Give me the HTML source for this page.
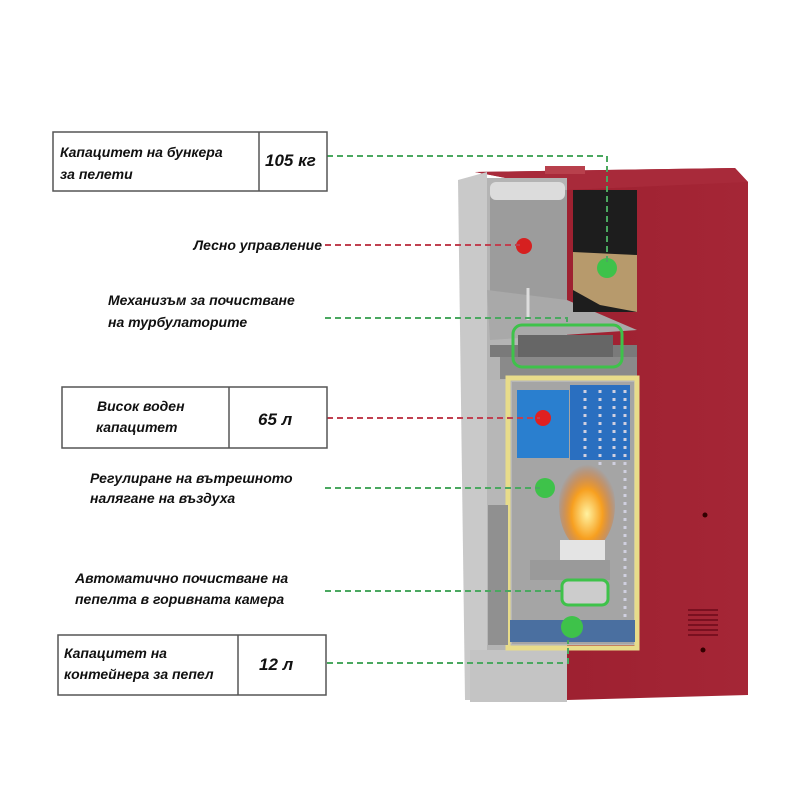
<!DOCTYPE html>
<html><head><meta charset="utf-8"><style>
html,body{margin:0;padding:0;background:#fff;}
svg{display:block}
text{font-family:"Liberation Sans","DejaVu Sans",sans-serif;font-style:italic;font-weight:bold;fill:#111;}
</style></head><body>
<svg width="800" height="800" viewBox="0 0 800 800" xmlns="http://www.w3.org/2000/svg">
<defs>
<radialGradient id="fl" cx="50%" cy="60%" r="55%">
<stop offset="0" stop-color="#fff2a0"/><stop offset="0.5" stop-color="#f7a020"/><stop offset="1" stop-color="#e06010" stop-opacity="0"/>
</radialGradient>
<linearGradient id="red" x1="0" x2="1"><stop offset="0" stop-color="#9a1e2e"/><stop offset="1" stop-color="#a52636"/></linearGradient>
</defs>
<!-- stove body -->
<polygon points="475,172 735,168 748,182 748,695 567,700 567,190" fill="url(#red)"/>
<polygon points="475,172 735,168 748,182 567,190" fill="#a82a3a"/>
<rect x="545" y="166" width="40" height="8" fill="#b8404c"/>
<!-- left gray frame -->
<polygon points="458,180 487,172 487,700 465,700" fill="#c9c9c9"/>
<rect x="487" y="178" width="80" height="522" fill="#b4b4b4"/>
<rect x="470" y="650" width="97" height="52" fill="#c4c4c4"/>
<!-- upper compartment -->
<rect x="490" y="190" width="77" height="140" fill="#9c9c9c"/>
<polygon points="487,290 567,300 637,330 490,340" fill="#a9a9a9"/>
<rect x="490" y="182" width="75" height="18" rx="6" fill="#dcdcdc"/>
<!-- hopper -->
<rect x="573" y="190" width="64" height="122" fill="#1d1d1d"/>
<polygon points="573,252 637,255 637,312 600,305 573,290" fill="#b79a6c"/>
<circle cx="524" cy="246" r="8" fill="#d62020"/>
<line x1="528" y1="288" x2="528" y2="320" stroke="#ddd" stroke-width="3"/>
<!-- shelf -->
<rect x="490" y="345" width="147" height="12" fill="#7a7a7a"/>
<rect x="518" y="335" width="95" height="28" fill="#666"/>
<rect x="500" y="357" width="137" height="22" fill="#8a8a8a"/>
<rect x="513" y="325" width="109" height="42" rx="9" fill="none" stroke="#3ec24a" stroke-width="3"/>
<!-- lower chamber -->
<rect x="487" y="380" width="150" height="265" fill="#b7b7b7"/>
<rect x="508" y="378" width="129" height="270" fill="none" stroke="#e8dc8a" stroke-width="5"/>
<rect x="512" y="382" width="122" height="262" fill="#a5a5a5"/>
<rect x="517" y="390" width="52" height="68" fill="#2a7fcf"/>
<rect x="570" y="385" width="60" height="75" fill="#2a6fc0"/>
<g stroke="#d0d0e0" stroke-width="3" stroke-dasharray="3 5">
<line x1="585" y1="390" x2="585" y2="460"/><line x1="600" y1="390" x2="600" y2="465"/><line x1="614" y1="390" x2="614" y2="470"/><line x1="625" y1="390" x2="625" y2="640"/>
</g>
<ellipse cx="587" cy="505" rx="28" ry="45" fill="url(#fl)"/>
<rect x="560" y="540" width="45" height="28" fill="#e4e4e4"/>
<rect x="530" y="560" width="80" height="20" fill="#9a9a9a"/>
<rect x="562" y="580" width="46" height="25" rx="6" fill="#ccc" stroke="#3ec24a" stroke-width="3"/>
<rect x="510" y="620" width="125" height="22" fill="#4a6fa0"/>
<rect x="488" y="505" width="20" height="140" fill="#909090"/>
<!-- right details -->
<g stroke="#7a1020" stroke-width="2"><line x1="688" y1="610" x2="718" y2="610"/><line x1="688" y1="615" x2="718" y2="615"/><line x1="688" y1="620" x2="718" y2="620"/><line x1="688" y1="625" x2="718" y2="625"/><line x1="688" y1="630" x2="718" y2="630"/><line x1="688" y1="635" x2="718" y2="635"/></g>
<circle cx="705" cy="515" r="2.5" fill="#300"/><circle cx="703" cy="650" r="2.5" fill="#300"/>
<!-- markers -->
<circle cx="607" cy="268" r="10" fill="#3ec24a"/>
<circle cx="543" cy="418" r="8" fill="#e02020"/>
<circle cx="545" cy="488" r="10" fill="#3ec24a"/>
<circle cx="572" cy="627" r="11" fill="#3ec24a"/>
<!-- connectors -->
<g fill="none" stroke-width="2" stroke-dasharray="6 4">
<polyline points="327,156 607,156 607,262" stroke="#4aa860"/>
<line x1="325" y1="245" x2="520" y2="245" stroke="#c04050"/>
<polyline points="325,318 567,318 567,326" stroke="#4aa860"/>
<line x1="327" y1="418" x2="540" y2="418" stroke="#c04050"/>
<line x1="325" y1="488" x2="540" y2="488" stroke="#4aa860"/>
<line x1="325" y1="591" x2="565" y2="591" stroke="#4aa860"/>
<polyline points="327,663 568,663 568,640" stroke="#4aa860"/>
</g>
<!-- boxes -->
<g fill="#fff" stroke="#555" stroke-width="1.5">
<rect x="53" y="132" width="274" height="59"/><line x1="259" y1="132" x2="259" y2="191"/>
<rect x="62" y="387" width="265" height="61"/><line x1="229" y1="387" x2="229" y2="448"/>
<rect x="58" y="635" width="268" height="60"/><line x1="238" y1="635" x2="238" y2="695"/>
</g>
<text x="60" y="157" font-size="14">Капацитет на бункера</text>
<text x="60" y="179" font-size="14">за пелети</text>
<text x="265" y="166" font-size="17">105 кг</text>
<text x="322" y="250" font-size="14" text-anchor="end">Лесно управление</text>
<text x="108" y="305" font-size="14">Механизъм за почистване</text>
<text x="108" y="327" font-size="14">на турбулаторите</text>
<text x="97" y="411" font-size="14">Висок воден</text>
<text x="96" y="432" font-size="14">капацитет</text>
<text x="258" y="425" font-size="17">65 л</text>
<text x="90" y="483" font-size="14">Регулиране на вътрешното</text>
<text x="90" y="503" font-size="14">налягане на въздуха</text>
<text x="75" y="583" font-size="14">Автоматично почистване на</text>
<text x="75" y="604" font-size="14">пепелта в горивната камера</text>
<text x="64" y="658" font-size="14">Капацитет на</text>
<text x="64" y="679" font-size="14">контейнера за пепел</text>
<text x="259" y="670" font-size="17">12 л</text>
</svg>
</body></html>
